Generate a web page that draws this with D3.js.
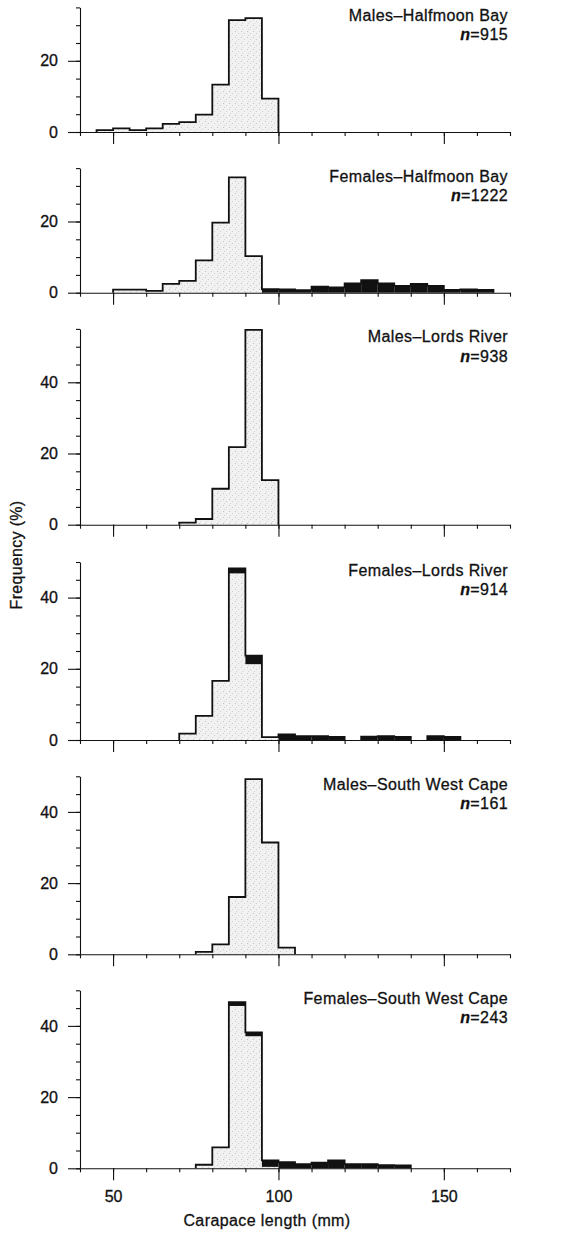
<!DOCTYPE html>
<html>
<head>
<meta charset="utf-8">
<script src="https://cdn.jsdelivr.net/npm/d3@7"></script>
<style>
  html, body { margin: 0; padding: 0; background: #fff; }
  svg { display: block; }
  text { font-family: "Liberation Sans", Arial, Helvetica, sans-serif; fill: #111; stroke: #111; stroke-width: 0.3px; }
</style>
</head>
<body>
<svg id="chart" width="562" height="1233"></svg>
<script>
// ---------------- DATA ----------------
// Bin start (mm) of each 5-mm carapace length class
const binStarts = [45,50,55,60,65,70,75,80,85,90,95,100,105,110,115,120,125,130,135,140,145,150,155,160,165];
const binWidth = 5;

const panelTitles = ["Males\u2013Halfmoon Bay","Females\u2013Halfmoon Bay","Males\u2013Lords River","Females\u2013Lords River","Males\u2013South West Cape","Females\u2013South West Cape"];
const sampleSizes = [915, 1222, 938, 914, 161, 243];
const yMaxes = [35, 35, 55, 50, 50, 50];
const yLabelTicks = [[0,20],[0,20],[0,20,40],[0,20,40],[0,20,40],[0,20,40]];
const xTicks = [40,50,60,70,80,90,100,110,120,130,140,150,160,170];
const xLabelTicks = [50,100,150];

// Frequency (%) per bin (aligned with binStarts); grey = stippled part, black = solid part stacked on top
const malesHalfmoonGrey   = [0.5,1.0,0.5,1.0,2.3,2.8,4.9,13.3,31.4,32.0,9.4,0,0,0,0,0,0,0,0,0,0,0,0,0,0];
const malesHalfmoonBlack  = [0,0,0,0,0,0,0,0,0,0,0,0,0,0,0,0,0,0,0,0,0,0,0,0,0];
const femalesHalfmoonGrey = [0,0.85,0.85,0.5,2.5,3.3,9.1,19.7,32.4,10.3,0,0,0,0,0,0,0,0,0,0,0,0,0,0,0];
const femalesHalfmoonBlack= [0,0,0,0,0,0,0,0,0,0,1.0,0.9,0.7,1.7,1.5,2.6,3.5,2.6,1.9,2.5,1.9,0.8,0.9,0.8,0];
const malesLordsGrey      = [0,0,0,0,0,0.6,1.6,10.1,21.8,54.7,12.5,0,0,0,0,0,0,0,0,0,0,0,0,0,0];
const malesLordsBlack     = [0,0,0,0,0,0,0,0,0,0,0,0,0,0,0,0,0,0,0,0,0,0,0,0,0];
const femalesLordsGrey    = [0,0,0,0,0,1.8,6.8,16.6,46.8,21.3,0.8,0,0,0,0,0,0,0,0,0,0,0,0,0,0];
const femalesLordsBlack   = [0,0,0,0,0,0,0,0,1.4,2.4,0,1.6,1.1,1.1,0.9,0,0.95,1.1,0.9,0,1.1,0.9,0,0,0];
const malesSWCapeGrey     = [0,0,0,0,0,0,0.7,2.8,16.1,49.2,31.4,1.9,0,0,0,0,0,0,0,0,0,0,0,0,0];
const malesSWCapeBlack    = [0,0,0,0,0,0,0,0,0,0,0,0,0,0,0,0,0,0,0,0,0,0,0,0,0];
const femalesSWCapeGrey   = [0,0,0,0,0,0,1.0,5.9,45.6,37.1,0.4,0,0,0,0,0,0,0,0,0,0,0,0,0,0];
const femalesSWCapeBlack  = [0,0,0,0,0,0,0,0,1.1,1.1,1.8,1.7,1.2,1.6,2.2,1.2,1.2,0.9,0.8,0,0,0,0,0,0];

const greySeries  = [malesHalfmoonGrey, femalesHalfmoonGrey, malesLordsGrey, femalesLordsGrey, malesSWCapeGrey, femalesSWCapeGrey];
const blackSeries = [malesHalfmoonBlack, femalesHalfmoonBlack, malesLordsBlack, femalesLordsBlack, malesSWCapeBlack, femalesSWCapeBlack];

// ---------------- LAYOUT ----------------
const baselines = [132, 292.7, 524.7, 740, 954.3, 1168.3];
const pxPerPct = 3.56;
const left = 80, right = 510;

const svg = d3.select("#chart");
const defs = svg.append("defs");
const pat = defs.append("pattern").attr("id","stipple").attr("patternUnits","userSpaceOnUse")
  .attr("width",6).attr("height",6);
pat.append("rect").attr("width",6).attr("height",6).attr("fill","#f1f1f1");
pat.append("rect").attr("x",1).attr("y",1).attr("width",1).attr("height",1).attr("fill","#c4c4c4");
pat.append("rect").attr("x",4).attr("y",3).attr("width",1).attr("height",1).attr("fill","#cfcfcf");
pat.append("rect").attr("x",2).attr("y",5).attr("width",1).attr("height",1).attr("fill","#d6d6d6");

const x = d3.scaleLinear().domain([40,170]).range([left,right]);

greySeries.forEach((grey, p) => {
  const black = blackSeries[p];
  const yMax = yMaxes[p];
  const base = baselines[p];
  const y = d3.scaleLinear().domain([0,yMax]).range([base, base - yMax*pxPerPct]);
  const g = svg.append("g");

  const bins = binStarts.map((s,i) => ({x0:s, x1:s+binWidth, grey:grey[i], black:black[i], total:grey[i]+black[i]}));

  g.selectAll("rect.grey").data(bins.filter(d=>d.grey>0)).join("rect")
    .attr("x", d=>x(d.x0)).attr("width", d=>x(d.x1)-x(d.x0))
    .attr("y", d=>y(d.grey)).attr("height", d=>y(0)-y(d.grey))
    .attr("fill","url(#stipple)");
  g.selectAll("rect.black").data(bins.filter(d=>d.black>0)).join("rect")
    .attr("x", d=>x(d.x0)).attr("width", d=>x(d.x1)-x(d.x0))
    .attr("y", d=>y(d.grey+d.black)).attr("height", d=>y(d.grey)-y(d.grey+d.black))
    .attr("fill","#111");

  const runs = [];
  let cur = null;
  bins.forEach(d => {
    if (d.total > 0) {
      if (!cur) { cur = []; runs.push(cur); }
      cur.push(d);
    } else cur = null;
  });
  const line = d3.line().x(d=>x(d[0])).y(d=>y(d[1]));
  runs.forEach(run => {
    const pts = [[run[0].x0, 0]];
    run.forEach(d => { pts.push([d.x0, d.total]); pts.push([d.x1, d.total]); });
    pts.push([run[run.length-1].x1, 0]);
    g.append("path").attr("d", line(pts)).attr("fill","none")
      .attr("stroke","#111").attr("stroke-width",1.8).attr("stroke-linejoin","miter");
  });

  const yMinor = g.append("g").attr("transform",`translate(${left},0)`)
    .call(d3.axisLeft(y).tickValues(d3.range(0, yMax+0.1, 5)).tickSize(4).tickSizeOuter(0).tickFormat(""));
  const yMajor = g.append("g").attr("transform",`translate(${left},0)`)
    .call(d3.axisLeft(y).tickValues(yLabelTicks[p]).tickSize(12).tickSizeOuter(0).tickPadding(10));
  yMajor.select(".domain").remove();
  yMajor.selectAll("text").attr("font-size",16).attr("font-family",'"Liberation Sans", Arial, sans-serif').attr("fill","#111");
  [yMinor,yMajor].forEach(a => a.selectAll("line,path").attr("stroke","#111").attr("stroke-width",1.1));

  const xMinor = g.append("g").attr("transform",`translate(0,${base})`)
    .call(d3.axisBottom(x).tickValues(xTicks).tickSize(4).tickSizeOuter(0).tickFormat(""));
  const xMajor = g.append("g").attr("transform",`translate(0,${base})`)
    .call(d3.axisBottom(x).tickValues(xLabelTicks).tickSize(12).tickSizeOuter(0).tickPadding(10)
      .tickFormat(p === greySeries.length-1 ? d3.format("d") : ""));
  xMajor.select(".domain").remove();
  xMajor.selectAll("text").attr("font-size",16).attr("font-family",'"Liberation Sans", Arial, sans-serif').attr("fill","#111");
  [xMinor,xMajor].forEach(a => a.selectAll("line,path").attr("stroke","#111").attr("stroke-width",1.1));

  const top = base - yMax*pxPerPct;
  g.append("text").attr("x", 508).attr("y", top + 13.5).attr("text-anchor","end")
    .attr("font-size",16).attr("letter-spacing","0.4px").text(panelTitles[p]);
  const t2 = g.append("text").attr("x", 508).attr("y", top + 33).attr("text-anchor","end")
    .attr("font-size",16).attr("letter-spacing","0.4px");
  t2.append("tspan").attr("font-style","italic").attr("font-weight","bold").text("n");
  t2.append("tspan").text("=" + sampleSizes[p]);
});

svg.append("text").attr("transform","translate(22,555) rotate(-90)").attr("text-anchor","middle")
  .attr("font-size",16).attr("letter-spacing","0.3px").text("Frequency (%)");
svg.append("text").attr("x",267).attr("y",1226).attr("text-anchor","middle")
  .attr("font-size",16).attr("letter-spacing","0.4px").text("Carapace length (mm)");
</script>
</body>
</html>
